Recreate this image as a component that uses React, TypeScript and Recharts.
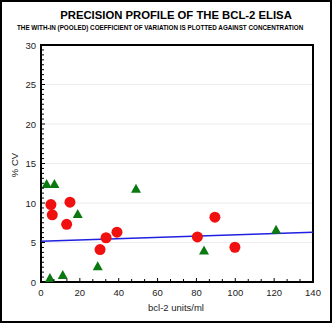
import React from 'react';
import {
  ComposedChart,
  Scatter,
  XAxis,
  YAxis,
  CartesianGrid,
  ReferenceArea,
  Label,
} from 'recharts';

// values
const circleX = [5.1, 5.8, 14.9, 13.2, 33.5, 30.4, 39.1, 89.5, 80.5, 99.8];
const circleY = [9.8, 8.5, 10.1, 7.3, 5.6, 4.1, 6.3, 8.2, 5.7, 4.4];
const triX = [2.9, 6.9, 48.9, 18.9, 4.6, 11.2, 29.2, 83.9, 121];
const triY = [12.4, 12.4, 11.8, 8.6, 0.5, 0.9, 2.0, 4.0, 6.6];
const fitX = [0, 140];
const fitY = [5.15, 6.3];

const xMajor = [0, 20, 40, 60, 80, 100, 120, 140];
const yMajor = [0, 5, 10, 15, 20, 25, 30];
const gridY = [5, 10, 15, 20, 25];

const circles = circleX.map((x, i) => ({ x, y: circleY[i] }));
const triangles = triX.map((x, i) => ({ x, y: triY[i] }));
const fit = fitX.map((x, i) => ({ x, y: fitY[i] }));

// minor tick marks between the labelled ones
const withMinor = (major: number[], parts: number) => {
  const out: number[] = [];
  major.forEach((v, i) => {
    out.push(v);
    if (i < major.length - 1) {
      const step = (major[i + 1] - v) / parts;
      for (let k = 1; k < parts; k++) out.push(v + k * step);
    }
  });
  return out;
};
const xTicks = withMinor(xMajor, 3);
const yTicks = withMinor(yMajor, 8);

const FONT = '"Liberation Sans", Arial, sans-serif';

const XTick = (props: any) => {
  const { x, y, payload } = props;
  const major = xMajor.includes(payload.value);
  return (
    <g>
      <line x1={x} x2={x} y1={y} y2={y - (major ? 4 : 3)} stroke="#000" strokeWidth={1} />
      <text x={x} y={y + 14} textAnchor="middle" fontSize={9.5} fontFamily={FONT} fill="#222">
        {major ? String(payload.value) : ''}
      </text>
    </g>
  );
};

const YTick = (props: any) => {
  const { x, y, payload } = props;
  const major = yMajor.includes(payload.value);
  return (
    <g>
      <line x1={x} x2={x + (major ? 4 : 3)} y1={y} y2={y} stroke="#000" strokeWidth={1} />
      <text x={x - 5} y={y + 3.5} textAnchor="end" fontSize={9.5} fontFamily={FONT} fill="#222">
        {major ? String(payload.value) : ''}
      </text>
    </g>
  );
};

const YTitle = (props: any) => {
  const vb = props.viewBox || { x: 0, y: 45, width: 41, height: 237 };
  const cy = vb.y + vb.height / 2 + 1.5;
  return (
    <text
      transform={`translate(17.5,${cy}) rotate(-90)`}
      textAnchor="middle"
      fontSize={9.5}
      fontFamily={FONT}
      fill="#222"
    >
      % CV
    </text>
  );
};

const XTitle = (props: any) => {
  const vb = props.viewBox || { x: 41, y: 282, width: 272, height: 30 };
  return (
    <text x={vb.x + vb.width / 2 - 1} y={vb.y + 29} textAnchor="middle" fontSize={9.5} fontFamily={FONT} fill="#222">
      bcl-2 units/ml
    </text>
  );
};

const RedDot = (p: any) => <circle cx={p.cx} cy={p.cy} r={5.5} fill="#f01010" />;

const GreenTri = (p: any) => (
  <polygon
    points={`${p.cx},${p.cy - 5} ${p.cx - 5},${p.cy + 4} ${p.cx + 5},${p.cy + 4}`}
    fill="#0a7a10"
  />
);

const NoShape = () => <g />;

export default function App() {
  return (
    <div
      style={{
        position: 'absolute',
        left: 0,
        top: 0,
        width: 333,
        height: 324,
        background: '#fff',
        overflow: 'hidden',
      }}
    >
      <ComposedChart width={333} height={324} margin={{ top: 45, right: 20, bottom: 12, left: 0 }}>
        <CartesianGrid vertical={false} horizontalValues={gridY} stroke="#ececec" />
        <XAxis
          type="number"
          dataKey="x"
          domain={[0, 140]}
          ticks={xTicks}
          interval={0}
          height={30}
          tickSize={0}
          tickMargin={0}
          axisLine={false}
          tick={<XTick />}
        >
          <Label content={<XTitle />} />
        </XAxis>
        <YAxis
          type="number"
          dataKey="y"
          domain={[0, 30]}
          ticks={yTicks}
          interval={0}
          width={41}
          tickSize={0}
          tickMargin={0}
          axisLine={false}
          tick={<YTick />}
        >
          <Label content={<YTitle />} />
        </YAxis>
        <Scatter
          data={fit}
          line={{ stroke: '#2020e0', strokeWidth: 1.5 }}
          shape={<NoShape />}
          isAnimationActive={false}
        />
        <Scatter data={triangles} shape={<GreenTri />} isAnimationActive={false} />
        <Scatter data={circles} shape={<RedDot />} isAnimationActive={false} />
        <ReferenceArea
          x1={0}
          x2={140}
          y1={0}
          y2={30}
          fill="none"
          fillOpacity={0}
          stroke="#000"
          strokeWidth={2}
          strokeOpacity={1}
          ifOverflow="visible"
        />
      </ComposedChart>
      <div
        style={{
          position: 'absolute',
          left: 0,
          top: 0,
          width: 332,
          height: 323,
          border: '2px solid #000',
          boxSizing: 'border-box',
          pointerEvents: 'none',
        }}
      />
      <div
        style={{
          position: 'absolute',
          left: 0,
          top: 9.9,
          width: 333,
          paddingLeft: 19,
          boxSizing: 'border-box',
          textAlign: 'center',
          fontFamily: FONT,
          fontSize: 11.3,
          lineHeight: '11.3px',
          fontWeight: 'bold',
          color: '#000',
          whiteSpace: 'nowrap',
          pointerEvents: 'none',
        }}
      >
        PRECISION PROFILE OF THE BCL-2 ELISA
      </div>
      <div
        style={{
          position: 'absolute',
          left: 17,
          top: 25.4,
          fontFamily: FONT,
          fontSize: 6.3,
          lineHeight: '6.3px',
          fontWeight: 'bold',
          color: '#000',
          whiteSpace: 'nowrap',
          pointerEvents: 'none',
        }}
      >
        THE WITH-IN (POOLED) COEFFICIENT OF VARIATION IS PLOTTED AGAINST CONCENTRATION
      </div>
    </div>
  );
}
